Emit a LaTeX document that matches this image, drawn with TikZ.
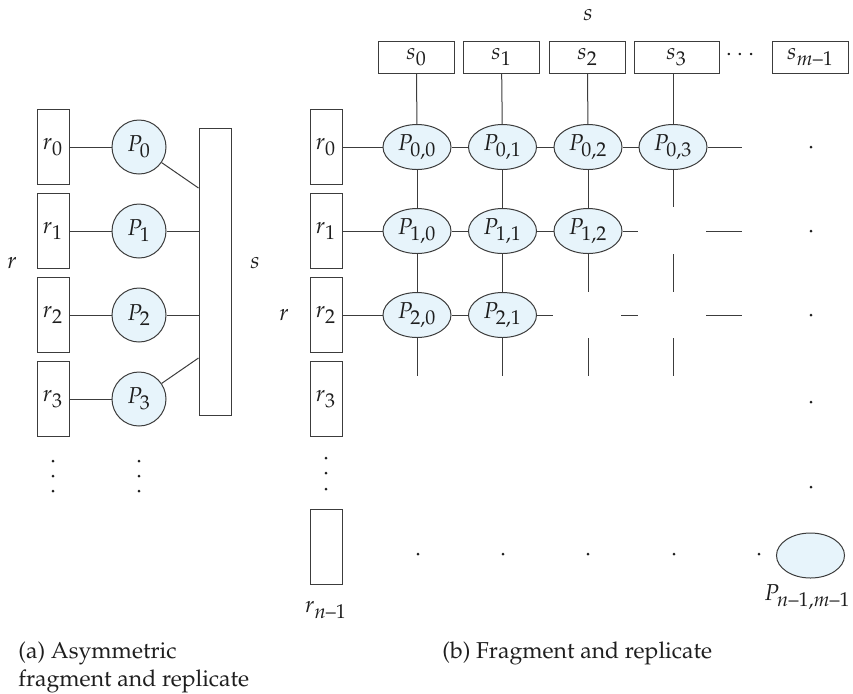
\documentclass[tikz,border=0pt]{standalone}
\usepackage[T1]{fontenc}
\usepackage{mathpazo}
\usepackage{amsmath}
\DeclareMathSizes{11.5}{11.5}{10}{8}
\newcommand{\dsh}{\text{--}}
\usetikzlibrary{calc,shapes.geometric}
\definecolor{pfill}{RGB}{231,244,251}
\definecolor{ln}{RGB}{60,60,60}
\definecolor{tx}{RGB}{30,30,30}
\begin{document}
\begin{tikzpicture}[x=0.5pt,y=-0.5pt,
  every node/.style={font=\fontsize{11.5}{14}\selectfont, text=tx},
  vbox/.style={draw=ln, line width=0.5pt, minimum width=16pt, minimum height=37.5pt, inner sep=0pt},
  hbox/.style={draw=ln, line width=0.5pt, minimum width=38pt, minimum height=16pt, inner sep=0pt},
  proc/.style={circle, draw=ln, fill=pfill, line width=0.5pt, minimum size=27pt, inner sep=0pt},
  oproc/.style={ellipse, draw=ln, fill=pfill, line width=0.5pt, minimum width=34pt, minimum height=22.5pt, inner sep=0pt},
  conn/.style={draw=ln, line width=0.5pt},
  dotmark/.style={fill=tx}
]
\useasboundingbox (0,0) rectangle (853,693);

% ---------------- (a) asymmetric ----------------
\node[vbox] (ra0) at (53,147) {$r_0$};
\node[vbox] (ra1) at (53,231) {$r_1$};
\node[vbox] (ra2) at (53,315) {$r_2$};
\node[vbox] (ra3) at (53,399) {$r_3$};
\node[proc] (pa0) at (139,147) {$P_0$};
\node[proc] (pa1) at (139,231) {$P_1$};
\node[proc] (pa2) at (139,315) {$P_2$};
\node[proc] (pa3) at (139,399) {$P_3$};
\node[draw=ln, line width=0.5pt, minimum width=16pt, minimum height=143.5pt, inner sep=0pt] (sa) at (215,271.5) {};
\coordinate (sa0) at ($(sa.west)+(0,-83.5)$);
\coordinate (sa3) at ($(sa.west)+(0,86.5)$);
\draw[conn] (ra0) -- (pa0);
\draw[conn] (ra1) -- (pa1);
\draw[conn] (ra2) -- (pa2);
\draw[conn] (ra3) -- (pa3);
\draw[conn] (pa0) -- (sa0);
\draw[conn] (pa1) -- (pa1 -| sa.west);
\draw[conn] (pa2) -- (pa2 -| sa.west);
\draw[conn] (pa3) -- (sa3);
\node (rlabA) at (12,263) {$r$};
\node (slabA) at (255,263) {$s$};
\foreach \yy in {461,476,491} {
  \fill[dotmark] (53,\yy) circle[radius=0.75pt];
  \fill[dotmark] (139,\yy) circle[radius=0.75pt];
}
\node[anchor=north west, align=left, inner sep=0pt] (capa) at (18,641) {(a) Asymmetric\\fragment and replicate};

% ---------------- (b) fragment and replicate ----------------
\node (slabB) at (588,15) {$s$};
\node[hbox] (sb0) at (416.5,57) {$s_0$};
\node[hbox] (sb1) at (501.5,57) {$s_1$};
\node[hbox] (sb2) at (587.5,57) {$s_2$};
\node[hbox, minimum width=42.5pt] (sb3) at (676.5,57) {$s_3$};
\node (sdots) at (742,55) {$\cdots$};
\node[hbox] (sbm) at (810.5,57) {$s_{m\dsh1}$};

\node (rlabB) at (284,315) {$r$};
\node[vbox] (rb0) at (326,147) {$r_0$};
\node[vbox] (rb1) at (326,231) {$r_1$};
\node[vbox] (rb2) at (326,315) {$r_2$};
\node[vbox] (rb3) at (326,399) {$r_3$};
\node[vbox] (rbn) at (326,546.5) {};
\node (rbnlab) at (326,610) {$r_{n\dsh1}$};

\node[oproc] (p00) at (417,147) {$P_{0,0}$};
\node[oproc] (p01) at (502.5,147) {$P_{0,1}$};
\node[oproc] (p02) at (588,147) {$P_{0,2}$};
\node[oproc] (p03) at (673,147) {$P_{0,3}$};
\node[oproc] (p10) at (417,231) {$P_{1,0}$};
\node[oproc] (p11) at (502.5,231) {$P_{1,1}$};
\node[oproc] (p12) at (588,231) {$P_{1,2}$};
\node[oproc] (p20) at (417,315) {$P_{2,0}$};
\node[oproc] (p21) at (502.5,315) {$P_{2,1}$};
\node[oproc] (pnm) at (810.5,555.5) {};
\node[anchor=east, inner xsep=0pt] (pnmlab) at (851,597) {$P_{n\dsh1,m\dsh1}$};

% free ends
\coordinate (e0) at (742,147);
\coordinate (e1a) at (638,231);
\coordinate (e1b) at (706,231);
\coordinate (e1c) at (742,231);
\coordinate (e2a) at (553,315);
\coordinate (e2b) at (621,315);
\coordinate (e2c) at (638,315);
\coordinate (e2d) at (706,315);
\coordinate (e2e) at (742,315);
\coordinate (v0) at (417,376);
\coordinate (v1) at (502.5,376);
\coordinate (v2a) at (588,292);
\coordinate (v2b) at (588,338);
\coordinate (v2c) at (588,376);
\coordinate (v3a) at (673,207);
\coordinate (v3b) at (673,254);
\coordinate (v3c) at (673,292);
\coordinate (v3d) at (673,338);
\coordinate (v3e) at (673,376);

% horizontal connectors
\draw[conn] (rb0) -- (p00);
\draw[conn] (p00) -- (p01);
\draw[conn] (p01) -- (p02);
\draw[conn] (p02) -- (p03);
\draw[conn] (p03) -- (e0);
\draw[conn] (rb1) -- (p10);
\draw[conn] (p10) -- (p11);
\draw[conn] (p11) -- (p12);
\draw[conn] (p12) -- (e1a);
\draw[conn] (e1b) -- (e1c);
\draw[conn] (rb2) -- (p20);
\draw[conn] (p20) -- (p21);
\draw[conn] (p21) -- (e2a);
\draw[conn] (e2b) -- (e2c);
\draw[conn] (e2d) -- (e2e);

% vertical connectors
\draw[conn] (sb0) -- (p00);
\draw[conn] (sb1) -- (p01);
\draw[conn] (sb2) -- (p02);
\draw[conn] (p03 |- sb3.south) -- (p03);
\draw[conn] (p00) -- (p10);
\draw[conn] (p10) -- (p20);
\draw[conn] (p20) -- (v0);
\draw[conn] (p01) -- (p11);
\draw[conn] (p11) -- (p21);
\draw[conn] (p21) -- (v1);
\draw[conn] (p02) -- (p12);
\draw[conn] (p12) -- (v2a);
\draw[conn] (v2b) -- (v2c);
\draw[conn] (p03) -- (v3a);
\draw[conn] (v3b) -- (v3c);
\draw[conn] (v3d) -- (v3e);

% dots
\foreach \yy in {147,231,315,402,487} {
  \fill[dotmark] (811,\yy) circle[radius=0.75pt];
}
\foreach \xx in {418,503,588,674,759} {
  \fill[dotmark] (\xx,554) circle[radius=0.75pt];
}
\foreach \yy in {458,473,489} {
  \fill[dotmark] (326,\yy) circle[radius=0.75pt];
}
\node[anchor=base west, inner sep=0pt] (capb) at (442,658) {(b) Fragment and replicate};
\end{tikzpicture}
\end{document}
